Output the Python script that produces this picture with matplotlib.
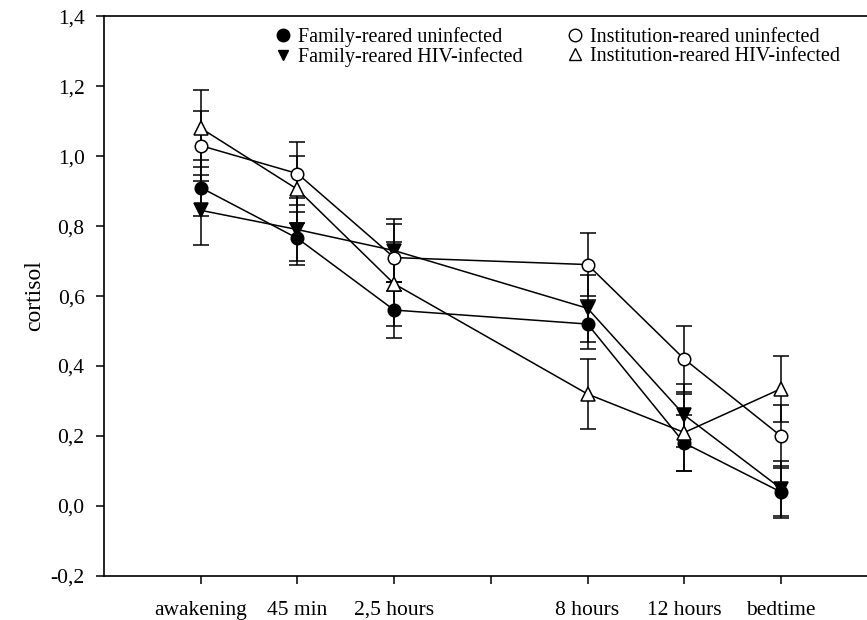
import matplotlib
matplotlib.use("Agg")
import matplotlib.pyplot as plt
from matplotlib.lines import Line2D
from matplotlib.ticker import FuncFormatter

# sampling times (tick slot 4 has no label)
time_pos = [1, 2, 3, 5, 6, 7]
tick_pos = [1, 2, 3, 4, 5, 6, 7]
tick_labels = ["awakening", "45 min", "2,5 hours", "", "8 hours", "12 hours", "bedtime"]

family_uninf = [0.91, 0.765, 0.56, 0.52, 0.18, 0.04]
family_uninf_err = [0.08, 0.075, 0.08, 0.07, 0.08, 0.075]

family_hiv = [0.845, 0.79, 0.73, 0.565, 0.26, 0.05]
family_hiv_err = [0.10, 0.09, 0.09, 0.095, 0.09, 0.08]

inst_uninf = [1.03, 0.95, 0.71, 0.69, 0.42, 0.20]
inst_uninf_err = [0.10, 0.09, 0.095, 0.09, 0.095, 0.09]

inst_hiv = [1.08, 0.905, 0.635, 0.32, 0.21, 0.335]
inst_hiv_err = [0.11, 0.095, 0.12, 0.10, 0.11, 0.095]

plt.rcParams['font.family'] = ['Liberation Serif', 'DejaVu Serif']

fig = plt.figure(figsize=(8.67, 6.2), dpi=100)
ax = fig.add_axes([0.12, 0.071, 0.88, 0.903])

series = [
    (family_uninf, family_uninf_err, 'o', 'black', 9, "Family-reared uninfected"),
    (family_hiv, family_hiv_err, 'v', 'black', 9.5, "Family-reared HIV-infected"),
    (inst_uninf, inst_uninf_err, 'o', 'white', 9, "Institution-reared uninfected"),
    (inst_hiv, inst_hiv_err, '^', 'white', 10, "Institution-reared HIV-infected"),
]

for vals, errs, mk, fc, ms, name in series:
    ax.errorbar(time_pos, vals, yerr=errs, color='black', lw=1.1,
                elinewidth=1.1, capsize=6, capthick=1.1,
                marker=mk, markersize=ms, markerfacecolor=fc,
                markeredgecolor='black', markeredgewidth=1.1, zorder=3)

ax.set_xlim(0, 7.89)
ax.set_ylim(-0.2, 1.4)
ax.set_xticks(tick_pos)
ax.set_xticklabels(tick_labels)
ax.set_yticks([-0.2, 0.0, 0.2, 0.4, 0.6, 0.8, 1.0, 1.2, 1.4])
ax.yaxis.set_major_formatter(FuncFormatter(lambda v, p: f"{v:.1f}".replace('.', ',')))
ax.tick_params(direction='out', length=6, width=1.1, labelsize=15.5, pad=8)
ax.tick_params(axis='x', pad=12)
for s in ['left', 'bottom', 'top']:
    ax.spines[s].set_linewidth(1.2)
ax.spines['right'].set_visible(False)
ax.set_ylabel("cortisol", fontsize=17, labelpad=4)

handles = [
    Line2D([], [], ls='none', marker='o', ms=9, mfc='black', mec='black'),
    Line2D([], [], ls='none', marker='v', ms=7, mfc='black', mec='black'),
    Line2D([], [], ls='none', marker='o', ms=9, mfc='white', mec='black'),
    Line2D([], [], ls='none', marker='^', ms=9, mfc='white', mec='black'),
]
labels = [s[5] for s in series]
ax.legend(handles, labels, ncol=2, frameon=False, fontsize=14.5,
          loc='upper right', bbox_to_anchor=(0.975, 0.995),
          handlelength=0.8, handletextpad=0.35, columnspacing=2.2,
          labelspacing=0.0, borderaxespad=0.0)

fig.savefig("out.png", dpi=100)
